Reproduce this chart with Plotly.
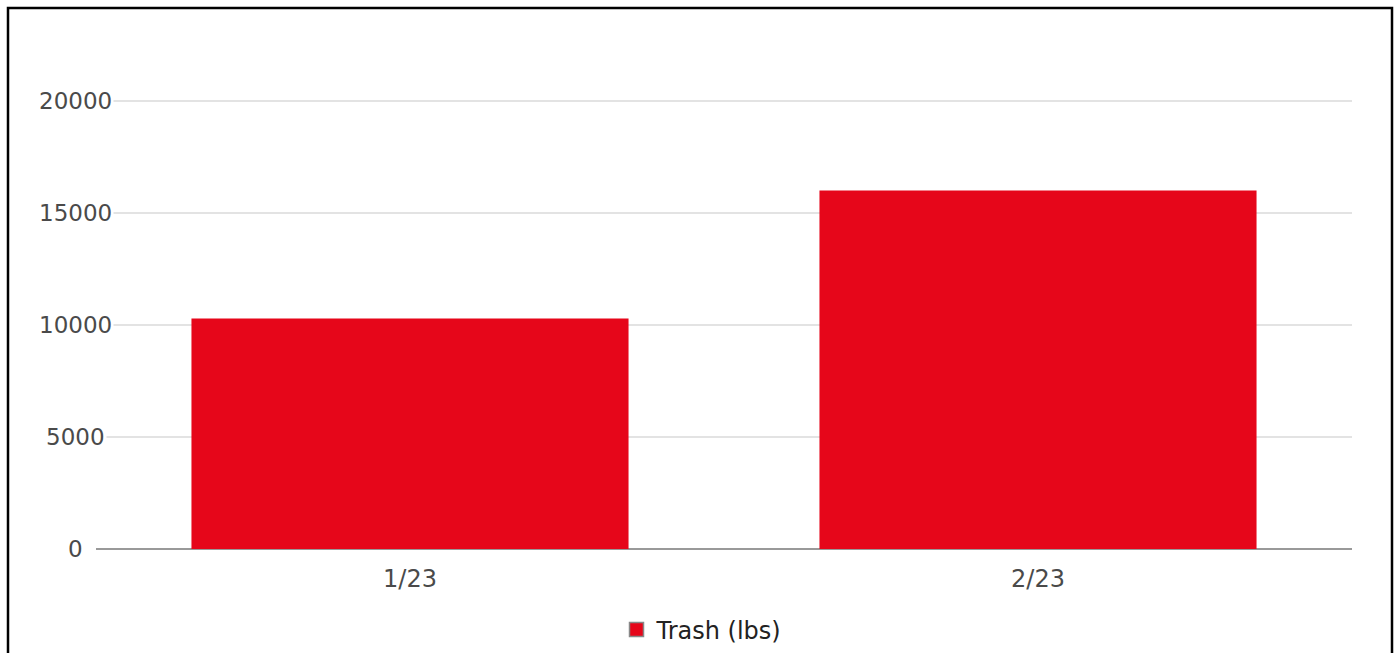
import plotly.graph_objects as go

categories = ["1/23", "2/23"]
trash_lbs = [10290, 16000]
series_name = "Trash (lbs)"
y_ticks = [0, 5000, 10000, 15000, 20000]
y_tick_labels = ["0", "5000", "10000", "15000", "20000"]

W, H = 1399, 653
ML, MR, MT, MB = 96, 47, 56, 104
PW = W - ML - MR
PH = H - MT - MB

def px_x(px):
    return (px - ML) / PW

def px_y(py):
    return (H - MB - py) / PH

FONT = "DejaVu Sans"
TXT = "#4a4a4a"
RED = "#E6061A"

fig = go.Figure()
fig.add_trace(go.Bar(
    x=categories, y=trash_lbs, name=series_name,
    marker=dict(color=RED, line=dict(width=0)),
    showlegend=False,
))
# legend entry with a larger outlined square, like the reference
fig.add_trace(go.Scatter(
    x=[None], y=[None], mode="markers", name=series_name,
    marker=dict(symbol="square", size=14, color=RED,
                line=dict(color="#888888", width=1.5)),
    showlegend=True,
))

annotations = []
for v, lab in zip(y_ticks, y_tick_labels):
    annotations.append(dict(
        x=px_x(75), xref="paper", y=v, yref="y",
        text=lab, showarrow=False, xanchor="center", yanchor="middle",
        font=dict(family=FONT, size=23, color=TXT),
        bgcolor="white", borderpad=1,
    ))

fig.update_layout(
    width=W, height=H,
    margin=dict(l=ML, r=MR, t=MT, b=MB, autoexpand=False),
    paper_bgcolor="white", plot_bgcolor="white",
    bargap=0.304,
    font=dict(family=FONT, size=23, color=TXT),
    xaxis=dict(
        showgrid=False, zeroline=False, showline=False, automargin=False,
        ticks="", tickfont=dict(family=FONT, size=24, color=TXT),
        ticklabelstandoff=13,
    ),
    yaxis=dict(
        range=[0, 22000], tickvals=y_ticks, showticklabels=False, automargin=False,
        showgrid=True, gridcolor="#e3e3e3", gridwidth=1.5,
        zeroline=True, zerolinecolor="#999999", zerolinewidth=2,
        showline=False, ticks="",
    ),
    legend=dict(
        orientation="h", x=px_x(702), xanchor="center",
        y=px_y(630), yanchor="middle",
        font=dict(family=FONT, size=24, color="#222222"),
        bgcolor="rgba(0,0,0,0)",
    ),
    annotations=annotations,
    shapes=[dict(
        type="rect", xref="paper", yref="paper",
        x0=px_x(8), x1=px_x(1392), y0=px_y(700), y1=px_y(8),
        line=dict(color="black", width=2.5), fillcolor="rgba(0,0,0,0)",
        layer="above",
    )],
)

fig.write_html("out.html")
